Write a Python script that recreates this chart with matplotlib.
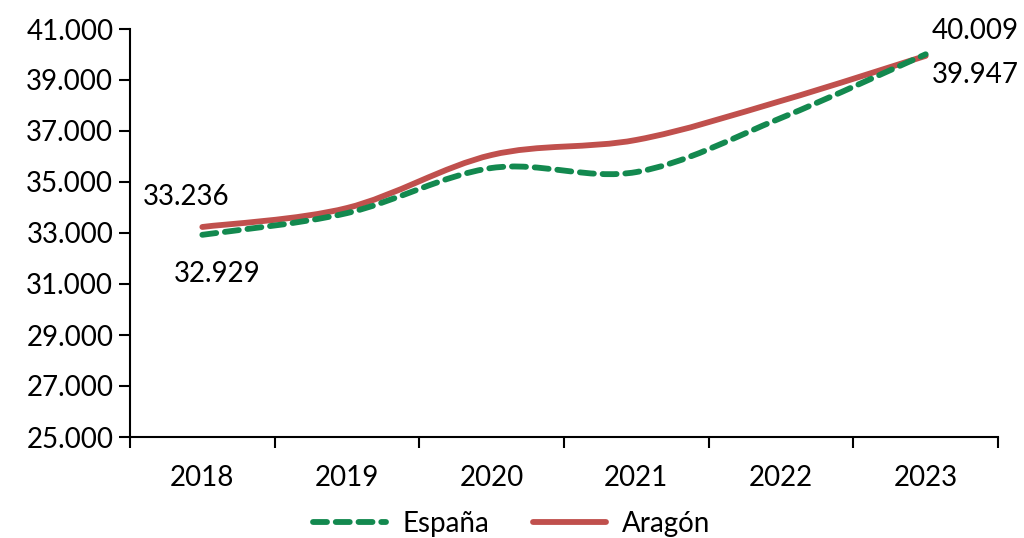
import matplotlib.pyplot as plt
import numpy as np
from matplotlib.path import Path
from matplotlib.patches import PathPatch
from matplotlib.lines import Line2D

plt.rcParams['font.family'] = ['Lato', 'DejaVu Sans']

# Data
years = ['2018', '2019', '2020', '2021', '2022', '2023']
espana = [32929, 33780, 35550, 35390, 37510, 40009]
aragon = [33236, 33980, 36060, 36650, 38180, 39947]

green = '#13894F'
red = '#C0504D'
fs = 20


def smooth_path(xs, ys):
    """Excel-like smoothed line: cubic Bezier through the points."""
    pts = np.column_stack([xs, ys]).astype(float)
    n = len(pts)
    verts = [pts[0]]
    codes = [Path.MOVETO]
    for i in range(n - 1):
        p0 = pts[i - 1] if i > 0 else pts[i]
        p1 = pts[i]
        p2 = pts[i + 1]
        p3 = pts[i + 2] if i + 2 < n else pts[i + 1]
        c1 = p1 + (p2 - p0) / 6
        c2 = p2 - (p3 - p1) / 6
        verts += [c1, c2, p2]
        codes += [Path.CURVE4] * 3
    return Path(verts, codes)


fig = plt.figure(figsize=(10.24, 5.38), dpi=100)
ax = fig.add_axes([130 / 1024, 1 - 437 / 538, 868 / 1024, 408 / 538])

x = np.arange(len(years))
dash = (0, (2.4, 1.5))
ax.add_patch(PathPatch(smooth_path(x, aragon), facecolor='none', edgecolor=red,
                       lw=4.2, capstyle='round'))
ax.add_patch(PathPatch(smooth_path(x, espana), facecolor='none', edgecolor=green,
                       lw=4.2, linestyle=dash, capstyle='round'))

ax.set_xlim(-0.5, len(years) - 0.5)
ax.set_ylim(25000, 41000)
ax.set_yticks(np.arange(25000, 41001, 2000))
ax.set_yticklabels([f'{v:,}'.replace(',', '.') for v in range(25000, 41001, 2000)])
ax.set_xticks(x)
ax.set_xticklabels(years)
ax.set_xticks(np.arange(-0.5, len(years), 1), minor=True)
ax.tick_params(axis='x', which='major', length=0, pad=20, labelsize=fs)
ax.tick_params(axis='x', which='minor', length=8, width=1.5)
ax.tick_params(axis='y', length=8, width=1.5, labelsize=fs, pad=4)
for s in ['top', 'right']:
    ax.spines[s].set_visible(False)
for s in ['left', 'bottom']:
    ax.spines[s].set_linewidth(1.5)

# Data labels
def fmt(v):
    return f'{v:,}'.replace(',', '.')

def label(xi, v, dx, dy):
    ax.annotate(fmt(v), (xi, v), xytext=(dx, dy), textcoords='offset pixels',
                ha='center', va='center', fontsize=fs, annotation_clip=False)

label(0, aragon[0], -16, 30)
label(0, espana[0], 15, -39)
label(5, espana[-1], 50, 23)
label(5, aragon[-1], 50, -19)

handles = [Line2D([], [], color=green, lw=4.2, linestyle=dash, dash_capstyle='round'),
           Line2D([], [], color=red, lw=4.2, solid_capstyle='round')]
fig.legend(handles, ['España', 'Aragón'], loc='center', bbox_to_anchor=(0.5, 1 - 524 / 538),
           ncol=2, frameon=False, fontsize=fs, handlelength=2.6, handletextpad=0.6,
           columnspacing=1.6)

fig.savefig('out.png', dpi=100)
